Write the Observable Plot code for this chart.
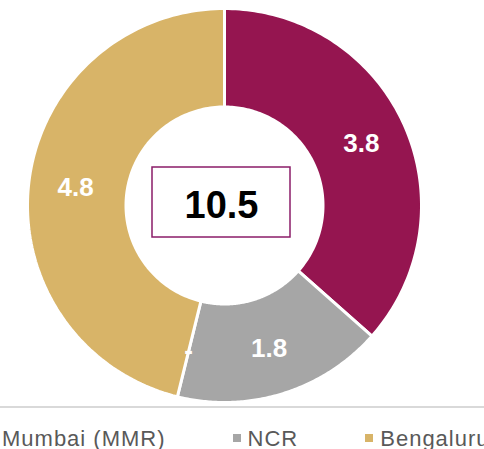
<!DOCTYPE html>
<html><head><meta charset="utf-8">
<script src="https://cdn.jsdelivr.net/npm/d3@7"></script>
<script src="https://cdn.jsdelivr.net/npm/@observablehq/plot@0.6"></script>
<style>
body{margin:0;background:#fff;}
#wrap{position:relative;width:484px;height:449px;overflow:hidden;font-family:"Liberation Sans",Arial,sans-serif;}
#rule{position:absolute;left:0;top:406px;width:484px;height:2px;background:#d9d9d9;}
#legend{position:absolute;left:-13px;top:430px;display:flex;gap:67px;white-space:nowrap;}
.item{font-size:22px;line-height:18px;letter-spacing:1px;color:#595959;}
.sw{display:inline-block;width:8px;height:8px;margin-right:7px;position:relative;top:-4px;}
</style></head>
<body>
<div id="wrap"><div id="chart"></div><div id="rule"></div><div id="legend"></div></div>
<script>
const categories = ["Mumbai (MMR)", "NCR", "Other", "Bengaluru"];
const values = [3.8, 1.8, 0, 4.8];
const valueLabels = ["3.8", "1.8", "-", "4.8"];
const legendCategories = ["Mumbai (MMR)", "NCR", "Bengaluru"];
const colors = ["#951550", "#A6A6A6", "#A6A6A6", "#D8B468"];
const totalLabel = "10.5";

const R = 197, r = 98.5, labelR = 150;
const data = categories.map((c, i) => ({key: c, value: values[i], label: valueLabels[i]}));
const arcs = d3.pie().sort(null).value(d => d.value).startAngle(0).endAngle(2 * Math.PI)(data);

const pts = [];
arcs.forEach(a => {
  if (a.data.value <= 0) return;
  const n = 120;
  for (let k = 0; k <= n; k++) {
    const t = a.startAngle + (a.endAngle - a.startAngle) * k / n;
    pts.push({key: a.data.key, x: R * Math.sin(t), y: R * Math.cos(t)});
  }
  for (let k = n; k >= 0; k--) {
    const t = a.startAngle + (a.endAngle - a.startAngle) * k / n;
    pts.push({key: a.data.key, x: r * Math.sin(t), y: r * Math.cos(t)});
  }
});
const labels = arcs.map(a => {
  const m = (a.startAngle + a.endAngle) / 2;
  return {x: labelR * Math.sin(m), y: labelR * Math.cos(m), text: a.data.label};
});

const chart = Plot.plot({
  width: 484, height: 407, margin: 0,
  x: {domain: [-224, 260], axis: null},
  y: {domain: [-202, 205], axis: null},
  color: {domain: categories, range: colors},
  style: {fontFamily: '"Liberation Sans", Arial, sans-serif', background: "white"},
  marks: [
    Plot.line(pts, {x: "x", y: "y", z: "key", fill: "key", stroke: "white", strokeWidth: 3, curve: "linear-closed"}),
    Plot.text(labels, {x: "x", y: "y", text: "text", fill: "white", fontSize: 26, fontWeight: "bold"}),
    Plot.rect([{x1: -72, x2: 66, y1: -32, y2: 38}], {x1: "x1", x2: "x2", y1: "y1", y2: "y2", fill: "white", stroke: "#8B1C68", strokeWidth: 1.5}),
    Plot.text([{x: -3, y: 0, t: totalLabel}], {x: "x", y: "y", text: "t", fontSize: 38, fontWeight: "bold", fill: "black"})
  ]
});
document.getElementById("chart").appendChild(chart);

const leg = document.getElementById("legend");
legendCategories.forEach(c => {
  const i = categories.indexOf(c);
  const it = document.createElement("span");
  it.className = "item";
  const sw = document.createElement("span");
  sw.className = "sw";
  sw.style.background = colors[i];
  it.appendChild(sw);
  it.appendChild(document.createTextNode(c));
  leg.appendChild(it);
});
</script>
</body></html>
